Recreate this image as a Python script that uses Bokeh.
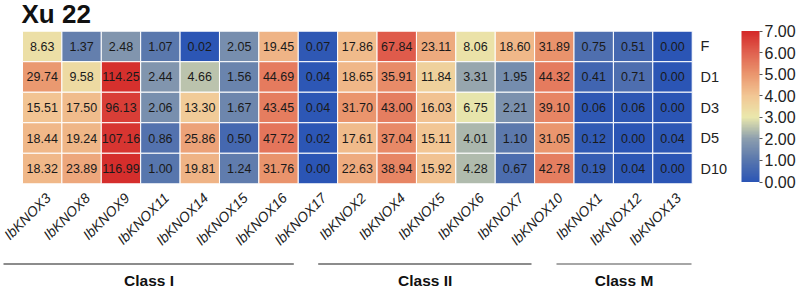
import numpy as np
from bokeh.plotting import figure
from bokeh.models import ColumnDataSource, LinearColorMapper, ColorBar, FixedTicker, PrintfTickFormatter, Range1d
from bokeh.core.properties import value
from bokeh.embed import file_html
from bokeh.resources import INLINE

title = "Xu 22"
genes = ["IbKNOX3", "IbKNOX8", "IbKNOX9", "IbKNOX11", "IbKNOX14", "IbKNOX15", "IbKNOX16", "IbKNOX17",
         "IbKNOX2", "IbKNOX4", "IbKNOX5", "IbKNOX6", "IbKNOX7", "IbKNOX10",
         "IbKNOX1", "IbKNOX12", "IbKNOX13"]
samples = ["F", "D1", "D3", "D5", "D10"]
vals_F = [8.63, 1.37, 2.48, 1.07, 0.02, 2.05, 19.45, 0.07, 17.86, 67.84, 23.11, 8.06, 18.60, 31.89, 0.75, 0.51, 0.00]
vals_D1 = [29.74, 9.58, 114.25, 2.44, 4.66, 1.56, 44.69, 0.04, 18.65, 35.91, 11.84, 3.31, 1.95, 44.32, 0.41, 0.71, 0.00]
vals_D3 = [15.51, 17.50, 96.13, 2.06, 13.30, 1.67, 43.45, 0.04, 31.70, 43.00, 16.03, 6.75, 2.21, 39.10, 0.06, 0.06, 0.00]
vals_D5 = [18.44, 19.24, 107.16, 0.86, 25.86, 0.50, 47.72, 0.02, 17.61, 37.04, 15.11, 4.01, 1.10, 31.05, 0.12, 0.00, 0.04]
vals_D10 = [18.32, 23.89, 116.99, 1.00, 19.81, 1.24, 31.76, 0.00, 22.63, 38.94, 15.92, 4.28, 0.67, 42.78, 0.19, 0.04, 0.00]
groups = ["Class I", "Class II", "Class M"]
group_sizes = [8, 6, 3]
cbar_ticks = [0, 1, 2, 3, 4, 5, 6, 7]

# ---- colour palette (muted reversed RdYlBu) ----
anchors = [(43, 85, 181), (88, 118, 173), (140, 158, 174), (234, 232, 172),
           (242, 198, 148), (234, 150, 110), (224, 98, 80), (212, 40, 40)]
pal = []
for k in range(256):
    t = k / 255 * 7
    i = min(int(t), 6)
    f = t - i
    a, b = anchors[i], anchors[i + 1]
    c = tuple(int(round(a[j] + (b[j] - a[j]) * f)) for j in range(3))
    pal.append("#%02x%02x%02x" % c)
mapper = LinearColorMapper(palette=pal, low=0, high=7)

# ---- geometry (pixel -> data helpers) ----
W, H = 798, 288
X0, CW = 22.0, 669.7 / 17
Y0, RH = 30.7, 30.52
xs = -X0 / CW
ys_top = 5 + Y0 / RH
def fx(px):
    return xs + px / CW
def fy(py):
    return ys_top - py / RH

rows = [vals_F, vals_D1, vals_D3, vals_D5, vals_D10]
cx, cy, v, lv, lab = [], [], [], [], []
for r, rowvals in enumerate(rows):
    for i, val in enumerate(rowvals):
        cx.append(i + 0.5)
        cy.append(5 - r - 0.5)
        v.append(val)
        lv.append(float(np.log2(val + 1)))
        lab.append("%.2f" % val)
src = ColumnDataSource(dict(x=cx, y=cy, v=v, lv=lv, lab=lab))

p = figure(width=W, height=H, output_backend="svg", toolbar_location=None,
           x_range=Range1d(xs, xs + W / CW), y_range=Range1d(ys_top - H / RH, ys_top),
           min_border=0, outline_line_color=None)
p.axis.visible = False
p.grid.visible = False
p.background_fill_color = "white"

p.rect(x="x", y="y", width=1, height=1, source=src,
       fill_color={"field": "lv", "transform": mapper},
       line_color="white", line_width=1)
p.text(x="x", y="y", text="lab", source=src, text_align="center", text_baseline="middle",
       text_font=value("Liberation Sans"), text_font_size="12.5px", text_color="#1a1a1a")

# row labels
p.text(x=[fx(700)] * 5, y=[5 - r - 0.5 for r in range(5)], text=samples,
       text_align="left", text_baseline="middle",
       text_font=value("Liberation Sans"), text_font_size="14.5px", text_color="#222222")

# column labels
n = len(genes)
p.text(x=[i + 0.5 + 6 / CW for i in range(n)], y=[fy(195)] * n, text=genes,
       angle=np.pi / 4, text_align="right", text_baseline="middle",
       text_font=value("Liberation Sans"), text_font_style="italic",
       text_font_size="14px", text_color="#222222")

# title
p.text(x=[fx(21)], y=[fy(13)], text=[title], text_align="left", text_baseline="middle",
       text_font=value("Liberation Sans"), text_font_style="bold", text_font_size="26px",
       text_color="#111111")

# group lines and labels
gx0 = [3, 317.7, 556]
gx1 = [293.3, 531, 691]
gcol = ["#666666", "#666666", "#888888"]
p.segment(x0=[fx(a) for a in gx0], x1=[fx(b) for b in gx1], y0=[fy(263.5)] * 3, y1=[fy(263.5)] * 3,
          line_color=gcol, line_width=1.3)
gcent = [148.5, 424.7, 623.5]
p.text(x=[fx(c) for c in gcent], y=[fy(280)] * 3, text=groups, text_align="center",
       text_baseline="middle", text_font=value("Liberation Sans"), text_font_style="bold",
       text_font_size="15.5px", text_color="#111111")

# colour bar
cb = ColorBar(color_mapper=mapper, ticker=FixedTicker(ticks=cbar_ticks),
              formatter=PrintfTickFormatter(format="%.2f"),
              width=18, height=151, padding=0, location=(741, 288 - 30.5 - 151),
              border_line_color=None, background_fill_alpha=0,
              major_tick_in=0, major_tick_out=3, major_tick_line_color="#555555",
              minor_tick_out=0, bar_line_color=None, label_standoff=2,
              major_label_text_font="Liberation Sans", major_label_text_font_size="16px",
              major_label_text_color="#222222")
p.add_layout(cb, "center")

open("out.html", "w").write(file_html(p, INLINE))
